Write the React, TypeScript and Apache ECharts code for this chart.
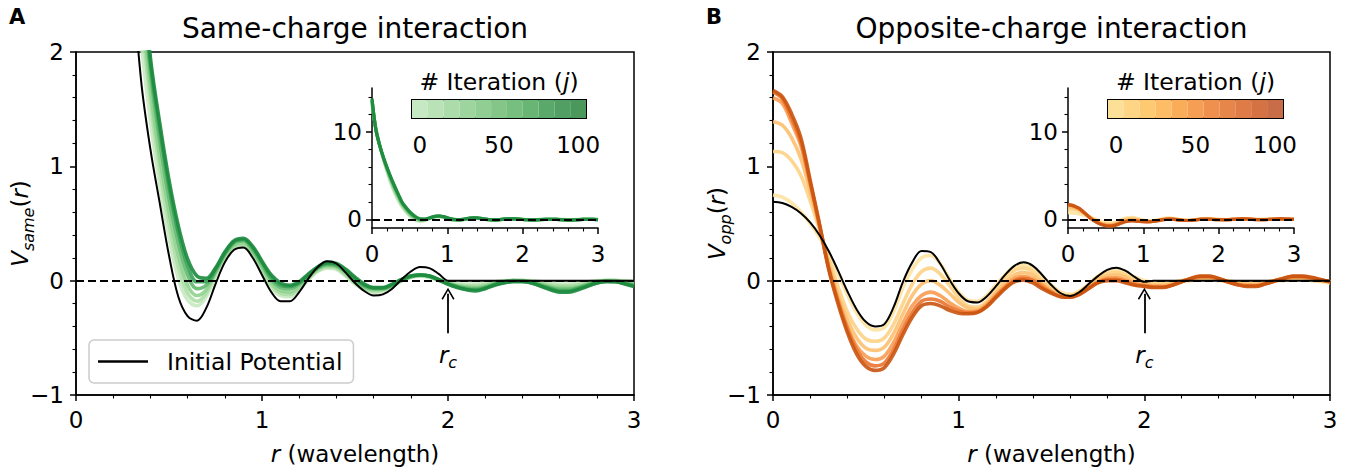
import React, { useEffect, useRef } from 'react';
import * as echarts from 'echarts';

// ---------- data ----------
const R = [
  0, 0.05, 0.1, 0.15, 0.2, 0.25, 0.3, 0.35, 0.4, 0.45,
  0.5, 0.55, 0.6, 0.65, 0.7, 0.75, 0.8, 0.85, 0.9, 0.95,
  1, 1.05, 1.1, 1.15, 1.2, 1.25, 1.3, 1.35, 1.4, 1.45,
  1.5, 1.55, 1.6, 1.65, 1.7, 1.75, 1.8, 1.85, 1.9, 1.95,
  2, 2.05, 2.1, 2.15, 2.2, 2.25, 2.3, 2.35, 2.4, 2.45,
  2.5, 2.55, 2.6, 2.65, 2.7, 2.75, 2.8, 2.85, 2.9, 2.95,
  3,
];

const ITERATIONS = [0, 10, 20, 40, 70, 100];
const COLORBAR_TICKS = ['0', '10', '20', '30', '40', '50', '60', '70', '80', '90', '100'];

// Same-charge interaction
const SAME_INIT = [
  14.0, 11.6, 9.4, 7.4, 5.6, 4.1, 2.75, 1.75, 1.15, 0.68,
  0.22, -0.14, -0.31, -0.35, -0.24, -0.03, 0.16, 0.27, 0.29, 0.2,
  0.05, -0.1, -0.18, -0.18, -0.1, 0.02, 0.12, 0.17, 0.15, 0.07,
  -0.02, -0.09, -0.13, -0.12, -0.07, 0.01, 0.08, 0.12, 0.11, 0.06,
  0, 0, 0, 0, 0, 0, 0, 0, 0, 0,
  0, 0, 0, 0, 0, 0, 0, 0, 0, 0,
  0,
];
const SAME_J0 = [
  13.0, 10.6, 8.6, 6.9, 5.4, 4.1, 3.0, 2.1, 1.4, 0.84,
  0.38, 0.02, -0.17, -0.22, -0.14, 0.04, 0.2, 0.29, 0.3, 0.22,
  0.08, -0.06, -0.13, -0.14, -0.08, 0.01, 0.08, 0.11, 0.1, 0.04,
  -0.03, -0.08, -0.1, -0.09, -0.05, 0, 0.03, 0.04, 0.03, 0,
  -0.02, -0.03, -0.03, -0.03, -0.02, -0.01, 0, 0, 0, 0,
  -0.01, -0.02, -0.03, -0.03, -0.02, -0.01, 0, 0, 0, 0,
  -0.01,
];
const SAME_J10 = [
  13.2, 10.4, 8.55, 6.95, 5.55, 4.3, 3.25, 2.35, 1.58, 0.98,
  0.5, 0.12, -0.11, -0.18, -0.11, 0.06, 0.21, 0.3, 0.31, 0.24,
  0.1, -0.04, -0.11, -0.12, -0.07, 0.02, 0.09, 0.12, 0.11, 0.05,
  -0.02, -0.07, -0.09, -0.08, -0.05, 0, 0.03, 0.045, 0.035, 0.005,
  -0.02, -0.035, -0.045, -0.045, -0.035, -0.02, -0.005, 0, 0, -0.01,
  -0.02, -0.035, -0.045, -0.045, -0.035, -0.02, -0.005, 0, 0, -0.01,
  -0.02,
];
const SAME_J20 = [
  13.4, 10.4, 8.5, 7.0, 5.65, 4.45, 3.4, 2.5, 1.68, 1.08,
  0.6, 0.22, -0.04, -0.13, -0.08, 0.07, 0.22, 0.31, 0.33, 0.25,
  0.12, -0.02, -0.09, -0.1, -0.05, 0.03, 0.1, 0.13, 0.12, 0.06,
  -0.01, -0.06, -0.08, -0.075, -0.045, 0, 0.035, 0.045, 0.035, 0.005,
  -0.025, -0.045, -0.055, -0.06, -0.045, -0.025, -0.01, 0, 0, -0.01,
  -0.03, -0.05, -0.06, -0.06, -0.05, -0.03, -0.01, 0, 0, -0.015,
  -0.03,
];
const SAME_J40 = [
  13.6, 10.35, 8.5, 7.05, 5.8, 4.65, 3.6, 2.68, 1.82, 1.22,
  0.72, 0.33, 0.05, -0.07, -0.04, 0.08, 0.23, 0.33, 0.35, 0.27,
  0.14, 0.01, -0.06, -0.07, -0.03, 0.04, 0.11, 0.14, 0.13, 0.08,
  0.01, -0.05, -0.07, -0.07, -0.04, 0.005, 0.035, 0.05, 0.04, 0.005,
  -0.025, -0.05, -0.065, -0.07, -0.055, -0.03, -0.01, 0, -0.005, -0.015,
  -0.04, -0.06, -0.075, -0.075, -0.06, -0.035, -0.015, -0.005, -0.005, -0.02,
  -0.04,
];
const SAME_J70 = [
  13.7, 10.3, 8.5, 7.08, 5.85, 4.75, 3.72, 2.78, 1.9, 1.32,
  0.82, 0.42, 0.13, -0.01, -0.01, 0.1, 0.24, 0.34, 0.36, 0.29,
  0.16, 0.03, -0.04, -0.05, -0.02, 0.05, 0.12, 0.15, 0.14, 0.09,
  0.02, -0.04, -0.065, -0.065, -0.035, 0.01, 0.04, 0.05, 0.04, 0.008,
  -0.03, -0.055, -0.075, -0.08, -0.065, -0.035, -0.015, -0.005, -0.005, -0.02,
  -0.045, -0.07, -0.09, -0.09, -0.07, -0.045, -0.02, -0.005, -0.01, -0.025,
  -0.045,
];
const SAME_J100 = [
  13.8, 10.3, 8.5, 7.1, 5.9, 4.8, 3.8, 2.85, 1.95, 1.38,
  0.88, 0.48, 0.19, 0.04, 0.02, 0.11, 0.25, 0.35, 0.37, 0.3,
  0.17, 0.05, -0.02, -0.04, -0.01, 0.06, 0.12, 0.16, 0.15, 0.1,
  0.03, -0.03, -0.06, -0.06, -0.03, 0.01, 0.04, 0.05, 0.04, 0.01,
  -0.03, -0.06, -0.08, -0.09, -0.07, -0.04, -0.02, -0.01, -0.01, -0.02,
  -0.05, -0.08, -0.1, -0.1, -0.08, -0.05, -0.02, -0.01, -0.01, -0.03,
  -0.05,
];

// Opposite-charge interaction
const OPP_INIT = [
  0.69, 0.68, 0.645, 0.59, 0.51, 0.4, 0.26, 0.09, -0.09, -0.25,
  -0.36, -0.4, -0.38, -0.23, -0.01, 0.16, 0.26, 0.25, 0.15, 0.01,
  -0.11, -0.18, -0.19, -0.14, -0.05, 0.05, 0.13, 0.16, 0.13, 0.05,
  -0.04, -0.11, -0.134, -0.1, -0.03, 0.04, 0.095, 0.114, 0.085, 0.03,
  -0.01, 0, 0, 0, 0, 0, 0, 0, 0, 0,
  0, 0, 0, 0, 0, 0, 0, 0, 0, 0,
  0,
];
const OPP_J0 = [
  0.75, 0.73, 0.68, 0.6, 0.5, 0.38, 0.23, 0.06, -0.12, -0.28,
  -0.39, -0.43, -0.41, -0.27, -0.06, 0.1, 0.2, 0.22, 0.15, 0.02,
  -0.1, -0.17, -0.18, -0.13, -0.04, 0.05, 0.12, 0.14, 0.11, 0.04,
  -0.04, -0.1, -0.12, -0.09, -0.03, 0.04, 0.08, 0.09, 0.07, 0.03,
  0, -0.01, -0.01, -0.01, 0, 0, 0.01, 0.01, 0, 0,
  -0.01, -0.01, -0.01, -0.01, 0, 0, 0.01, 0.01, 0, -0.01,
  -0.02,
];
const OPP_J10 = [
  1.13, 1.12, 1.05, 0.92, 0.7, 0.45, 0.2, -0.05, -0.27, -0.42,
  -0.51, -0.53, -0.5, -0.38, -0.2, -0.03, 0.08, 0.11, 0.06, -0.04,
  -0.15, -0.22, -0.23, -0.18, -0.09, 0.02, 0.09, 0.11, 0.08, 0,
  -0.07, -0.12, -0.13, -0.1, -0.04, 0.02, 0.06, 0.07, 0.05, 0.01,
  -0.02, -0.03, -0.03, -0.02, 0, 0.01, 0.02, 0.02, 0.01, -0.005,
  -0.02, -0.025, -0.025, -0.015, 0, 0.01, 0.02, 0.02, 0.01, 0,
  -0.01,
];
const OPP_J20 = [
  1.39, 1.36, 1.25, 1.07, 0.78, 0.47, 0.15, -0.12, -0.34, -0.5,
  -0.59, -0.61, -0.58, -0.46, -0.29, -0.13, -0.03, 0, -0.04, -0.11,
  -0.19, -0.24, -0.25, -0.2, -0.11, -0.02, 0.05, 0.07, 0.05, -0.02,
  -0.08, -0.13, -0.135, -0.105, -0.05, 0.01, 0.04, 0.05, 0.03, -0.01,
  -0.03, -0.04, -0.04, -0.03, -0.005, 0.015, 0.025, 0.025, 0.01, -0.01,
  -0.025, -0.035, -0.035, -0.02, 0, 0.015, 0.025, 0.025, 0.015, 0,
  -0.01,
];
const OPP_J40 = [
  1.6, 1.55, 1.38, 1.18, 0.84, 0.48, 0.12, -0.16, -0.4, -0.57,
  -0.66, -0.69, -0.66, -0.54, -0.37, -0.22, -0.13, -0.1, -0.13, -0.19,
  -0.24, -0.27, -0.265, -0.215, -0.13, -0.05, 0.02, 0.035, 0.015, -0.04,
  -0.095, -0.135, -0.14, -0.115, -0.06, -0.01, 0.02, 0.025, 0.005, -0.025,
  -0.04, -0.05, -0.05, -0.035, -0.01, 0.015, 0.03, 0.03, 0.015, -0.01,
  -0.03, -0.04, -0.04, -0.025, 0, 0.02, 0.03, 0.03, 0.02, 0.005,
  -0.01,
];
const OPP_J70 = [
  1.65, 1.59, 1.42, 1.21, 0.86, 0.49, 0.11, -0.18, -0.42, -0.6,
  -0.71, -0.745, -0.72, -0.6, -0.43, -0.28, -0.18, -0.16, -0.18, -0.23,
  -0.265, -0.28, -0.275, -0.225, -0.14, -0.06, 0, 0.02, 0, -0.055,
  -0.105, -0.14, -0.145, -0.12, -0.065, -0.015, 0.01, 0.012, -0.008, -0.035,
  -0.045, -0.055, -0.055, -0.04, -0.01, 0.018, 0.035, 0.035, 0.018, -0.01,
  -0.032, -0.045, -0.045, -0.028, -0.003, 0.02, 0.035, 0.035, 0.025, 0.008,
  -0.01,
];
const OPP_J100 = [
  1.665, 1.61, 1.46, 1.25, 0.88, 0.5, 0.1, -0.2, -0.45, -0.64,
  -0.75, -0.785, -0.76, -0.64, -0.47, -0.32, -0.22, -0.2, -0.22, -0.26,
  -0.285, -0.29, -0.28, -0.23, -0.15, -0.07, -0.01, 0.005, -0.02, -0.07,
  -0.11, -0.14, -0.145, -0.12, -0.07, -0.02, 0, 0, -0.02, -0.04,
  -0.05, -0.06, -0.06, -0.04, -0.01, 0.02, 0.04, 0.04, 0.02, -0.01,
  -0.035, -0.05, -0.05, -0.03, -0.005, 0.02, 0.04, 0.04, 0.03, 0.01,
  -0.01,
];

const SAME_CURVES = [SAME_J0, SAME_J10, SAME_J20, SAME_J40, SAME_J70, SAME_J100];
const OPP_CURVES = [OPP_J0, OPP_J10, OPP_J20, OPP_J40, OPP_J70, OPP_J100];

const GREEN_LINES = ['#c7e9c0', '#addea6', '#8fd18f', '#62b86f', '#37a055', '#1c8a3e'];
const ORANGE_LINES = ['#fee2a0', '#fdd386', '#fdc070', '#f99b50', '#e9732f', '#c9530f'];
const GREEN_BAR = ['#c6e8c2', '#b9e2b6', '#abdcaa', '#9ed59f', '#90ce94', '#83c688', '#76bf7e', '#69b674', '#5ba96a', '#529f63', '#4b985d'];
const ORANGE_BAR = ['#fde098', '#fdd585', '#fdca72', '#fcbd66', '#f9ad59', '#f69e53', '#ef904f', '#e7864b', '#de7b46', '#d47243', '#c86d47'];

const MAIN_Y_TICKS = [-1, 0, 1, 2];
const INSET_Y_TICKS = [0, 10];
const INSET_Y_MINOR = [2, 4, 6, 8, 12, 14];

const RC = 2;
const ARROW_TAIL = -0.46;
const ARROW_HEAD = -0.115;
const RC_LABEL_Y = -0.65;

// ---------- styling ----------
const FONT = 'DejaVu Sans';
const FS = 23;
const CHEVRON = 'path://M6,0 L12,10 L10.8,10.9 L6,2.6 L1.2,10.9 L0,10 Z';

const fmtMinus = (v: number) => (v < 0 ? '\u2212' + Math.abs(v) : String(v));

const richMath = {
  i: { fontStyle: 'italic', fontSize: FS, fontFamily: FONT, color: '#000' },
  n: { fontSize: FS, fontFamily: FONT, color: '#000' },
  s: { fontStyle: 'italic', fontSize: 16, fontFamily: FONT, color: '#000', padding: [16, 0, 0, 0] },
};

const pts = (ys: number[]) => R.map((r, i) => [r, ys[i]]);

function mainXAxis(gridIndex: number) {
  return {
    type: 'value', gridIndex, min: 0, max: 3, interval: 1,
    name: '{i|r}{n| (wavelength)}', nameLocation: 'middle', nameGap: 47,
    nameTextStyle: { rich: richMath },
    axisLine: { show: true, onZero: false, lineStyle: { color: '#000', width: 1.5 } },
    axisTick: { show: true, length: 6, lineStyle: { color: '#000', width: 1.5 } },
    minorTick: { show: true, splitNumber: 5, length: 3.5, lineStyle: { color: '#000', width: 1.1 } },
    axisLabel: { color: '#000', fontSize: FS, fontFamily: FONT, margin: 13 },
    splitLine: { show: false },
  };
}
function mainYAxis(gridIndex: number, sub: string) {
  return {
    type: 'value', gridIndex, min: -1, max: 2, interval: 1, position: 'left',
    name: `{i|V}{s|${sub}}{n|(}{i|r}{n|)}`, nameLocation: 'middle', nameGap: 40, nameRotate: 90,
    nameMoveOverlap: false,
    nameTextStyle: { rich: richMath },
    axisLine: { show: true, onZero: false, lineStyle: { color: '#000', width: 1.5 } },
    axisTick: { show: true, length: 6, lineStyle: { color: '#000', width: 1.5 } },
    minorTick: { show: true, splitNumber: 5, length: 3.5, lineStyle: { color: '#000', width: 1.1 } },
    axisLabel: { color: '#000', fontSize: FS, fontFamily: FONT, margin: 12, formatter: fmtMinus,
      customValues: MAIN_Y_TICKS },
    splitLine: { show: false },
  };
}
function insetXAxis(gridIndex: number) {
  return {
    type: 'value', gridIndex, min: 0, max: 3, interval: 1,
    axisLine: { show: true, onZero: false, lineStyle: { color: '#000', width: 1.5 } },
    axisTick: { show: true, length: 6, lineStyle: { color: '#000', width: 1.5 } },
    minorTick: { show: true, splitNumber: 5, length: 3.5, lineStyle: { color: '#000', width: 1.1 } },
    axisLabel: { color: '#000', fontSize: FS, fontFamily: FONT, margin: 14 },
    splitLine: { show: false },
  };
}
function insetYAxis(gridIndex: number) {
  return {
    type: 'value', gridIndex, min: -1, max: 15, position: 'left',
    axisLine: { show: true, onZero: false, lineStyle: { color: '#000', width: 1.5 } },
    axisTick: { show: true, length: 6, lineStyle: { color: '#000', width: 1.5 }, customValues: INSET_Y_TICKS },
    axisLabel: { color: '#000', fontSize: FS, fontFamily: FONT, margin: 10, customValues: INSET_Y_TICKS },
    splitLine: { show: false },
  };
}
function insetYMinor(gridIndex: number) {
  return {
    type: 'value', gridIndex, min: -1, max: 15, position: 'left',
    axisLine: { show: false, onZero: false },
    axisTick: { show: true, length: 3.5, lineStyle: { color: '#000', width: 1.1 }, customValues: INSET_Y_MINOR },
    axisLabel: { show: false },
    splitLine: { show: false },
  };
}
function cbXAxis(gridIndex: number) {
  return {
    type: 'category', gridIndex, data: COLORBAR_TICKS,
    axisLine: { show: false }, axisTick: { show: false },
    axisLabel: { color: '#000', fontSize: FS, fontFamily: FONT, margin: 15,
      interval: (idx: number) => idx % 5 === 0 },
    splitLine: { show: false },
  };
}
function cbYAxis(gridIndex: number) {
  return { type: 'value', gridIndex, min: 0, max: 1, show: false };
}

function buildOption() {
  const series: any[] = [];

  // panel A main
  SAME_CURVES.forEach((c, k) => {
    series.push({
      type: 'line', name: `same j=${ITERATIONS[k]}`, xAxisIndex: 0, yAxisIndex: 0,
      data: pts(c), symbol: 'none', smooth: 0.35, silent: true, z: 2,
      lineStyle: { color: GREEN_LINES[k], width: 3.6, opacity: 0.9 },
    });
  });
  // panel B main
  OPP_CURVES.forEach((c, k) => {
    series.push({
      type: 'line', name: `opp j=${ITERATIONS[k]}`, xAxisIndex: 2, yAxisIndex: 2,
      data: pts(c), symbol: 'none', smooth: 0.35, silent: true, z: 2,
      lineStyle: { color: ORANGE_LINES[k], width: 3.6, opacity: 0.9 },
    });
  });

  const annot = {
    markLine: {
      silent: true, symbol: ['none', 'none'], animation: false,
      label: { show: false },
      lineStyle: { color: '#000', width: 2, type: [8, 4] },
      data: [
        { yAxis: 0 },
        [
          { coord: [RC, ARROW_TAIL], symbol: 'none', lineStyle: { type: 'solid', width: 1.8, color: '#000' } },
          { coord: [RC, ARROW_HEAD], symbol: CHEVRON, symbolSize: [13, 12] },
        ],
      ],
    },
    markPoint: {
      silent: true, symbol: 'circle', symbolSize: 1,
      itemStyle: { color: 'rgba(0,0,0,0)' },
      label: { show: true, position: 'inside', formatter: '{i|r}{s|c}', rich: richMath },
      data: [{ coord: [RC, RC_LABEL_Y] }],
    },
  };

  series.push({
    type: 'line', name: 'Initial Potential', xAxisIndex: 0, yAxisIndex: 0,
    data: pts(SAME_INIT), symbol: 'none', smooth: 0.35, z: 4,
    lineStyle: { color: '#000', width: 2 }, itemStyle: { color: '#000' },
    ...annot,
  });
  series.push({
    type: 'line', name: 'Initial Potential', xAxisIndex: 2, yAxisIndex: 2,
    data: pts(OPP_INIT), symbol: 'none', smooth: 0.35, z: 4,
    lineStyle: { color: '#000', width: 2 }, itemStyle: { color: '#000' },
    ...annot,
  });

  // insets
  const insetDash = {
    markLine: {
      silent: true, symbol: ['none', 'none'], label: { show: false },
      lineStyle: { color: '#000', width: 2, type: [8, 4] },
      data: [{ yAxis: 0 }],
    },
  };
  SAME_CURVES.forEach((c, k) => {
    series.push({
      type: 'line', xAxisIndex: 1, yAxisIndex: 1,
      data: pts(c), symbol: 'none', smooth: 0.35, silent: true, z: 2,
      lineStyle: { color: GREEN_LINES[k], width: 3.2, opacity: 0.9 },
      ...(k === 0 ? insetDash : {}),
    });
  });
  OPP_CURVES.forEach((c, k) => {
    series.push({
      type: 'line', xAxisIndex: 3, yAxisIndex: 3,
      data: pts(c), symbol: 'none', smooth: 0.35, silent: true, z: 2,
      lineStyle: { color: ORANGE_LINES[k], width: 3.2, opacity: 0.9 },
      ...(k === 0 ? insetDash : {}),
    });
  });

  // colorbars
  series.push({
    type: 'bar', xAxisIndex: 4, yAxisIndex: 4, barWidth: '100%', barCategoryGap: '0%', silent: true,
    data: COLORBAR_TICKS.map((_, i) => ({ value: 1, itemStyle: { color: GREEN_BAR[i] } })),
  });
  series.push({
    type: 'bar', xAxisIndex: 5, yAxisIndex: 5, barWidth: '100%', barCategoryGap: '0%', silent: true,
    data: COLORBAR_TICKS.map((_, i) => ({ value: 1, itemStyle: { color: ORANGE_BAR[i] } })),
  });

  const mainGrid = { show: true, borderColor: '#000', borderWidth: 1.5, backgroundColor: 'transparent', outerBoundsMode: 'none' };
  const plainGrid = { show: false, outerBoundsMode: 'none' };
  const cbGrid = { show: true, borderColor: '#000', borderWidth: 2, backgroundColor: 'transparent', outerBoundsMode: 'none' };

  const textEl = (x: number, y: number, text: string, size: number, extra: any = {}) => ({
    type: 'text', x, y, silent: true,
    style: { text, fontSize: size, fontFamily: FONT, fill: '#000', align: 'center', verticalAlign: 'middle', ...extra },
  });

  return {
    animation: false,
    backgroundColor: '#fff',
    textStyle: { fontFamily: FONT },
    grid: [
      { left: 76, top: 52, width: 558, height: 343, ...mainGrid },
      { left: 372, top: 88, width: 226, height: 140, ...plainGrid },
      { left: 773, top: 52, width: 557, height: 343, ...mainGrid },
      { left: 1068, top: 88, width: 226, height: 140, ...plainGrid },
      { left: 412, top: 100, width: 174, height: 18, ...cbGrid },
      { left: 1108, top: 100, width: 175, height: 18, ...cbGrid },
    ],
    xAxis: [mainXAxis(0), insetXAxis(1), mainXAxis(2), insetXAxis(3), cbXAxis(4), cbXAxis(5)],
    yAxis: [
      mainYAxis(0, 'same'), insetYAxis(1), mainYAxis(2, 'opp'), insetYAxis(3),
      cbYAxis(4), cbYAxis(5), insetYMinor(1), insetYMinor(3),
    ],
    legend: {
      left: 89, top: 340, orient: 'horizontal', selectedMode: false,
      data: [{ name: 'Initial Potential', icon: 'rect' }],
      itemWidth: 50, itemHeight: 2.5,
      padding: [8, 11, 8, 9],
      backgroundColor: 'rgba(255,255,255,0.85)',
      borderColor: '#cccccc', borderWidth: 1.5, borderRadius: 5,
      textStyle: { fontSize: 23.5, fontFamily: FONT, color: '#000', padding: [0, 0, 0, 14], lineHeight: 27 },
    },
    graphic: [
      textEl(355, 28, 'Same-charge interaction', 28),
      textEl(1051.5, 28, 'Opposite-charge interaction', 28),
      textEl(17, 17, 'A', 21, { fontWeight: 'bold' }),
      textEl(714, 17, 'B', 21, { fontWeight: 'bold' }),
      textEl(499, 82, '# Iteration ({j|j})', 23.5, { rich: { j: { fontStyle: 'italic', fontSize: 23.5, fontFamily: FONT } } }),
      textEl(1195.5, 82, '# Iteration ({j|j})', 23.5, { rich: { j: { fontStyle: 'italic', fontSize: 23.5, fontFamily: FONT } } }),
    ],
    series,
  };
}

export default function App() {
  const ref = useRef<HTMLDivElement>(null);
  useEffect(() => {
    if (!ref.current) return;
    const chart = echarts.init(ref.current, null, { renderer: 'svg' });
    chart.setOption(buildOption() as any);
    return () => chart.dispose();
  }, []);
  return (
    <div
      ref={ref}
      style={{ position: 'fixed', left: 0, top: 0, width: 1349, height: 475, background: '#fff' }}
    />
  );
}
